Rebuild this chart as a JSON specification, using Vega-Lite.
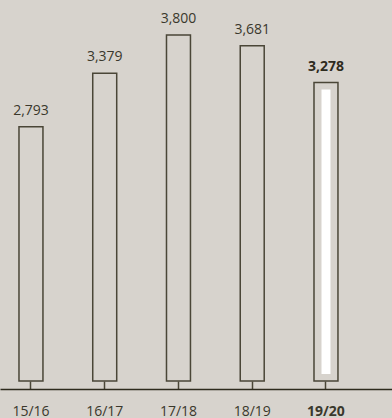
{
  "$schema": "https://vega.github.io/schema/vega-lite/v6.json",
  "width": 392,
  "height": 381,
  "autosize": "none",
  "padding": {"left": 0, "top": 0, "right": 0, "bottom": 37},
  "background": "#d7d3cd",
  "config": {"view": {"stroke": null}, "font": "Open Sans"},
  "data": {"values": [
    {"year": "15/16", "value": 2793, "current": false},
    {"year": "16/17", "value": 3379, "current": false},
    {"year": "17/18", "value": 3800, "current": false},
    {"year": "18/19", "value": 3681, "current": false},
    {"year": "19/20", "value": 3278, "current": true}
  ]},
  "encoding": {
    "x": {
      "field": "year", "type": "nominal", "sort": null,
      "scale": {"paddingInner": 0.675, "paddingOuter": 0.495, "align": 0.26},
      "axis": {
        "title": null, "offset": 8, "tickSize": -8, "domainColor": "#2e2b1e", "tickColor": "#4a4637",
        "domainWidth": 1.5, "tickWidth": 1.5, "labelAngle": 0, "labelFontSize": 14, "labelColor": "#3a382c",
        "labelPadding": 30, "labelBaseline": "middle",
        "labelFontWeight": {"condition": {"test": "datum.value == '19/20'", "value": "bold"}, "value": "normal"}
      }
    },
    "y": {
      "field": "value", "type": "quantitative",
      "scale": {"domain": [0, 4184], "nice": false},
      "axis": null
    }
  },
  "layer": [
    {"mark": {"type": "bar", "fill": "#d7d3cd", "stroke": "#4a4637", "strokeWidth": 1.5}},
    {
      "transform": [{"filter": "datum.current"}],
      "mark": {"type": "bar", "fill": "#ffffff", "width": {"band": 0.375}, "yOffset": 7, "y2Offset": -7},
      "encoding": {"y2": {"datum": 0}}
    },
    {
      "transform": [{"filter": "!datum.current"}],
      "mark": {"type": "text", "baseline": "alphabetic", "dy": -12, "fontSize": 14, "color": "#3a382c"},
      "encoding": {"text": {"field": "value", "type": "quantitative", "format": ","}}
    },
    {
      "transform": [{"filter": "datum.current"}],
      "mark": {"type": "text", "baseline": "alphabetic", "dy": -12, "fontSize": 14, "fontWeight": "bold", "color": "#2e2b1e"},
      "encoding": {"text": {"field": "value", "type": "quantitative", "format": ","}}
    }
  ]
}
